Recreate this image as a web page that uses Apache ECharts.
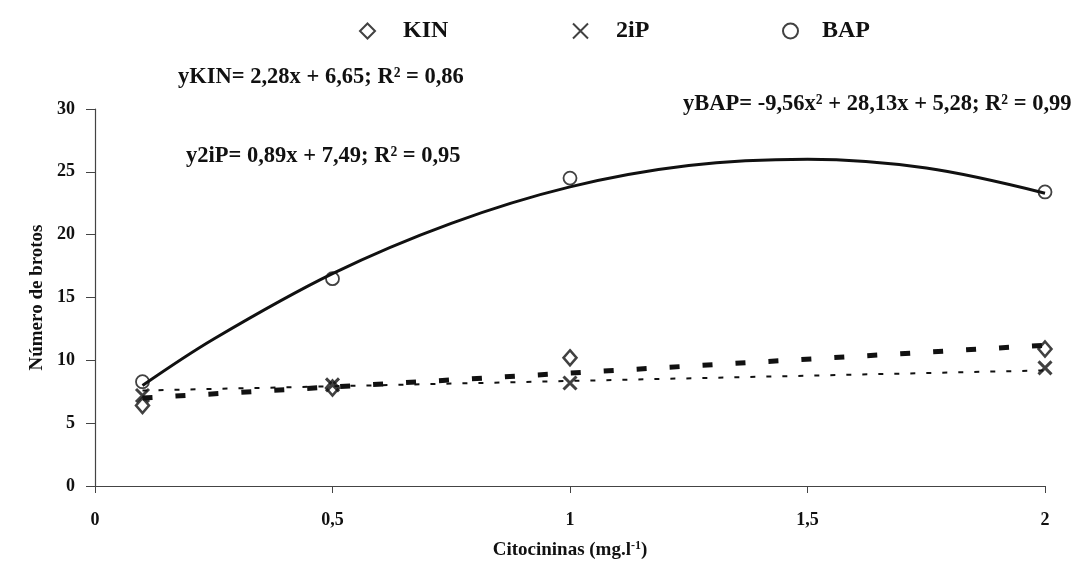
<!DOCTYPE html>
<html>
<head>
<meta charset="utf-8">
<script src="https://cdn.jsdelivr.net/npm/echarts@6/dist/echarts.min.js"></script>
<style>
  html, body { margin: 0; padding: 0; background: #fff; }
  #chart { width: 1082px; height: 572px; }
</style>
</head>
<body>
<div id="chart"></div>
<script>
// doses (mg/l)
const doses = [0.1, 0.5, 1, 2];
// observed number of shoots
const kinValues = [6.4, 7.8, 10.2, 10.9];
const ipValues = [7.2, 8.05, 8.2, 9.4];
const bapValues = [8.3, 16.5, 24.5, 23.4];

// trend lines
const kinTrendX = [0.1, 2];
const kinTrendY = [7.0, 11.2];
const ipTrendX = [0.1, 2];
const ipTrendY = [7.6, 9.2];
const bapTrendX = [0.1, 0.25, 0.5, 0.75, 1, 1.25, 1.5, 1.75, 2];
const bapTrendY = [8.0, 11.7, 16.9, 20.9, 23.8, 25.5, 26.0, 25.3, 23.3];

const xTickLabels = { '0': '0', '0.5': '0,5', '1': '1', '1.5': '1,5', '2': '2' };

const eqKin = 'yKIN= 2,28x + 6,65; R² = 0,86';
const eqIp = 'y2iP= 0,89x + 7,49; R² = 0,95';
const eqBap = 'yBAP= -9,56x² + 28,13x + 5,28; R² = 0,99';

const serif = "'Liberation Serif', 'Times New Roman', serif";
const zip = (xs, ys) => xs.map((x, i) => [x, ys[i]]);

// one legend per item so each can sit where the original has it
const legendItem = (name, left, pad) => ({
  data: [name],
  left: left,
  top: 14,
  itemWidth: 15,
  itemHeight: 15,
  textStyle: {
    fontFamily: serif, fontWeight: 'bold', fontSize: 24, color: '#111',
    padding: [0, 0, 0, pad]
  }
});

const chart = echarts.init(document.getElementById('chart'));

chart.setOption({
  animation: false,
  backgroundColor: '#fff',
  textStyle: { fontFamily: serif },
  grid: { left: 95, right: 37, top: 109, bottom: 86 },
  legend: [
    legendItem('KIN', 354, 23),
    legendItem('2iP', 567, 23),
    legendItem('BAP', 777, 19)
  ],
  xAxis: {
    type: 'value',
    min: 0, max: 2, interval: 0.5,
    name: 'Citocininas (mg.l{sup|-1})',
    nameLocation: 'middle',
    nameGap: 54,
    nameTextStyle: {
      fontFamily: serif, fontWeight: 'bold', fontSize: 19, color: '#111',
      rich: {
        sup: { fontFamily: serif, fontWeight: 'bold', fontSize: 12, verticalAlign: 'top', padding: [0, 0, 8, 0] }
      }
    },
    splitLine: { show: false },
    axisLine: { lineStyle: { color: '#444', width: 1.2 } },
    axisTick: { length: 7, lineStyle: { color: '#444' } },
    axisLabel: {
      margin: 25,
      fontFamily: serif, fontWeight: 'bold', fontSize: 18, color: '#111',
      formatter: v => xTickLabels[String(v)]
    }
  },
  yAxis: {
    type: 'value',
    min: 0, max: 30, interval: 5,
    name: 'Número de brotos',
    nameLocation: 'middle',
    nameGap: 48,
    nameTextStyle: { fontFamily: serif, fontWeight: 'bold', fontSize: 19, color: '#111' },
    splitLine: { show: false },
    axisLine: { show: true, lineStyle: { color: '#444', width: 1.2 } },
    axisTick: { show: true, length: 9, lineStyle: { color: '#444' } },
    axisLabel: {
      margin: 20,
      fontFamily: serif, fontWeight: 'bold', fontSize: 18, color: '#111'
    }
  },
  graphic: [
    { type: 'text', left: 178, top: 66, style: { text: eqKin, fontFamily: serif, fontWeight: 'bold', fontSize: 22.5, fill: '#111' } },
    { type: 'text', left: 186, top: 145, style: { text: eqIp, fontFamily: serif, fontWeight: 'bold', fontSize: 22.5, fill: '#111' } },
    { type: 'text', left: 683, top: 93, style: { text: eqBap, fontFamily: serif, fontWeight: 'bold', fontSize: 22.5, fill: '#111' } }
  ],
  series: [
    {
      name: 'KIN trend', type: 'line', data: zip(kinTrendX, kinTrendY),
      showSymbol: false, silent: true,
      lineStyle: { color: '#111', width: 5, type: [10, 23] }
    },
    {
      name: '2iP trend', type: 'line', data: zip(ipTrendX, ipTrendY),
      showSymbol: false, silent: true,
      lineStyle: { color: '#111', width: 2, type: [5, 11] }
    },
    {
      name: 'BAP trend', type: 'line', data: zip(bapTrendX, bapTrendY),
      showSymbol: false, silent: true, smooth: 0.35,
      lineStyle: { color: '#111', width: 3, type: 'solid' }
    },
    {
      name: 'KIN', type: 'scatter', data: zip(doses, kinValues),
      symbol: 'diamond', symbolSize: [13, 15],
      itemStyle: { color: '#fff', borderColor: '#111', borderWidth: 2.5 }
    },
    {
      name: '2iP', type: 'scatter', data: zip(doses, ipValues),
      symbol: 'path://M0,0L10,10M0,10L10,0', symbolSize: 13,
      itemStyle: { color: '#111', borderColor: '#111', borderWidth: 3 }
    },
    {
      name: 'BAP', type: 'scatter', data: zip(doses, bapValues),
      symbol: 'circle', symbolSize: 13,
      itemStyle: { color: '#fff', borderColor: '#111', borderWidth: 1.8 }
    }
  ]
});
</script>
</body>
</html>
